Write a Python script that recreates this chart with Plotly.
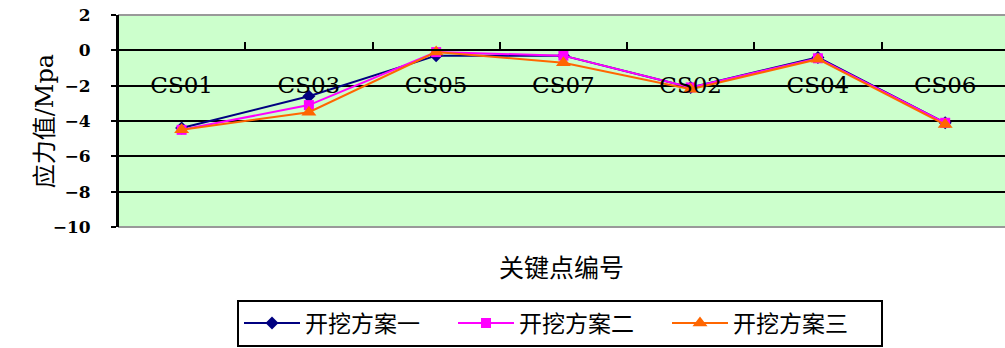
import plotly.graph_objects as go

# Key point IDs along the excavation section
categories = ["CS01", "CS03", "CS05", "CS07", "CS02", "CS04", "CS06"]

# Stress values (MPa) for the three excavation schemes
scheme_1 = [-4.4, -2.6, -0.3, -0.3, -2.1, -0.4, -4.1]
scheme_2 = [-4.5, -3.1, -0.1, -0.3, -2.1, -0.45, -4.1]
scheme_3 = [-4.5, -3.5, -0.1, -0.7, -2.2, -0.5, -4.2]

series_names = ["开挖方案一", "开挖方案二", "开挖方案三"]
y_ticks = [2, 0, -2, -4, -6, -8, -10]

W, H = 1005, 348
L, T, B = 118, 15, 121

fig = go.Figure()
styles = [
    dict(color="#000080", symbol="diamond", size=10),
    dict(color="#FF00FF", symbol="square", size=10),
    dict(color="#FF6600", symbol="triangle-up", size=13),
]
for name, vals, st in zip(series_names, [scheme_1, scheme_2, scheme_3], styles):
    fig.add_trace(go.Scatter(
        x=categories, y=vals, name=name, mode="lines+markers",
        line=dict(color=st["color"], width=2),
        marker=dict(color=st["color"], symbol=st["symbol"], size=st["size"]),
    ))

fig.update_layout(
    width=W, height=H,
    margin=dict(l=L, r=0, t=T, b=B, pad=0, autoexpand=False),
    paper_bgcolor="white",
    plot_bgcolor="#CCFFCC",
    showlegend=True,
    legend=dict(
        orientation="h", xref="container", yref="container",
        x=237 / W, y=1.5 / H, xanchor="left", yanchor="bottom",
        bordercolor="black", borderwidth=2, bgcolor="white",
        font=dict(family="Noto Sans CJK SC", size=23, color="black"),
        entrywidth=143, entrywidthmode="pixels",
        itemwidth=56,
        tracegroupgap=0,
    ),
    xaxis=dict(
        type="category", range=[-0.5, 6.47],
        anchor="free", position=10 / 12,
        showline=True, linecolor="black", linewidth=2,
        ticks="inside", tickson="boundaries", ticklen=7, tickwidth=2, tickcolor="black",
        showgrid=False, zeroline=False,
        tickfont=dict(family="DejaVu Serif", size=23, color="black"),
        ticklabelstandoff=14,
    ),
    yaxis=dict(
        range=[-10, 2], tickvals=y_ticks,
        showline=True, linecolor="black", linewidth=2,
        ticks="outside", ticklen=5, tickwidth=2, tickcolor="black",
        showgrid=True, gridcolor="black", gridwidth=2,
        zeroline=True, zerolinecolor="black", zerolinewidth=2,
        tickfont=dict(family="DejaVu Serif", size=17, color="black", weight="bold"),
        ticklabelstandoff=17,
    ),
    shapes=[
        dict(type="line", xref="paper", yref="paper", x0=0, x1=1, y0=1, y1=1,
             line=dict(color="#999999", width=2), layer="above"),
        dict(type="line", xref="paper", yref="paper", x0=0, x1=1, y0=0, y1=0,
             line=dict(color="#999999", width=2), layer="above"),
        dict(type="line", xref="paper", yref="paper", x0=0, x1=0, y0=0, y1=1,
             line=dict(color="black", width=2), layer="above"),
    ],
    annotations=[
        dict(text="关键点编号", xref="paper", yref="paper", x=0.5, y=-0.182,
             xanchor="center", yanchor="middle", showarrow=False,
             font=dict(family="Noto Sans CJK SC", size=25, color="black")),
        dict(text="应力值/Mpa", xref="paper", yref="paper", x=-0.082, y=0.5,
             xanchor="center", yanchor="middle", showarrow=False, textangle=-90,
             font=dict(family="DejaVu Serif, Noto Sans CJK SC", size=24, color="black")),
    ],
)

fig.write_html("out.html")
